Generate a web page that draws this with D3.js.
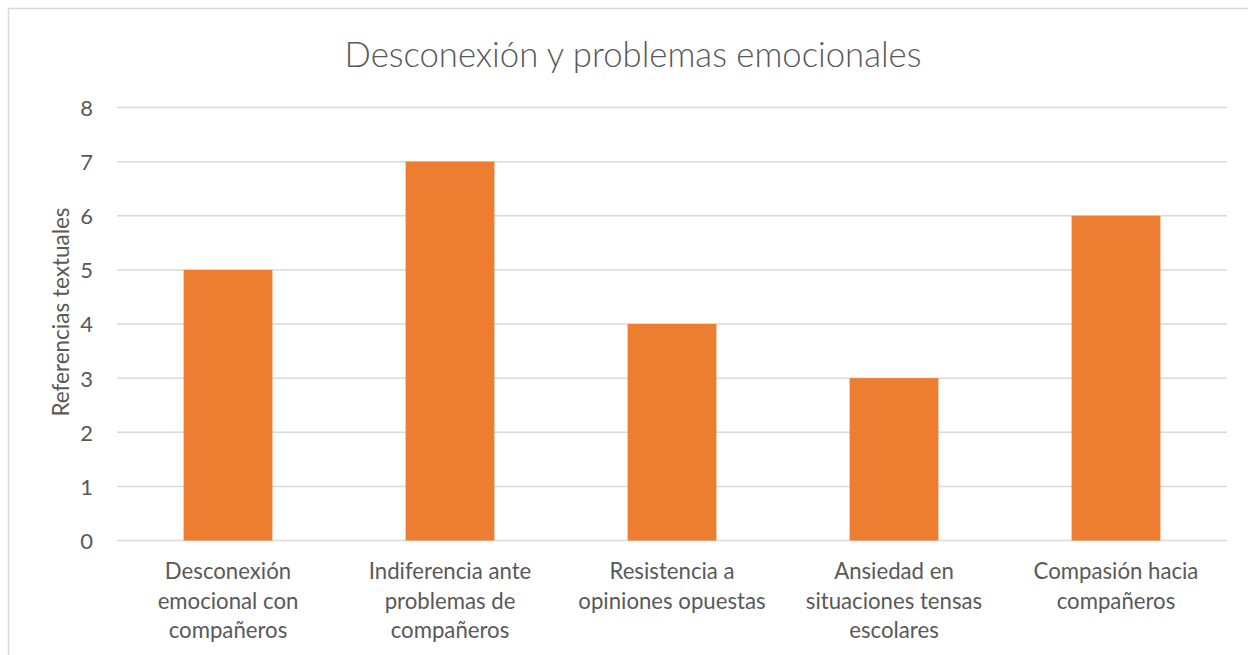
<!DOCTYPE html>
<html>
<head>
<meta charset="utf-8">
<script src="https://cdn.jsdelivr.net/npm/d3@7"></script>
<style>
  body { margin: 0; background: #fff; }
  text { font-family: Lato, "Open Sans", sans-serif; fill: #595959; }
</style>
</head>
<body>
<script>
const categories = [
  'Desconexión\nemocional con\ncompañeros',
  'Indiferencia ante\nproblemas de\ncompañeros',
  'Resistencia a\nopiniones opuestas',
  'Ansiedad en\nsituaciones tensas\nescolares',
  'Compasión hacia\ncompañeros'
];
const values = [5, 7, 4, 3, 6];
const yTicks = [0, 1, 2, 3, 4, 5, 6, 7, 8];
const title = 'Desconexión y problemas emocionales';
const yTitle = 'Referencias textuales';

const w = 1248, h = 655;
const plotLeft = 117, plotRight = 1227, plotTop = 107.5, plotBottom = 540.5;

const svg = d3.select('body').append('svg')
  .attr('width', w)
  .attr('height', h);

// chart border
svg.append('rect')
  .attr('x', 8.5).attr('y', 8.5)
  .attr('width', 1250).attr('height', 660)
  .attr('fill', 'none')
  .attr('stroke', '#d9d9d9')
  .attr('stroke-width', 1.5);

const x = d3.scaleBand()
  .domain(categories)
  .range([plotLeft, plotRight])
  .paddingInner(0.6)
  .paddingOuter(0.3);

const y = d3.scaleLinear()
  .domain([0, 8])
  .range([plotBottom, plotTop]);

// gridlines
svg.append('g')
  .selectAll('line')
  .data(yTicks)
  .enter()
  .append('line')
  .attr('x1', plotLeft).attr('x2', plotRight)
  .attr('y1', d => y(d)).attr('y2', d => y(d))
  .attr('stroke', '#d9d9d9')
  .attr('stroke-width', 1.5);

const yAxis = d3.axisLeft(y).tickValues(yTicks).tickSize(0).tickPadding(0);
const gy = svg.append('g')
  .attr('transform', `translate(93, 0)`)
  .call(yAxis);
gy.select('.domain').remove();
gy.selectAll('text')
  .style('font-size', '22px')
  .attr('fill', '#595959')
  .attr('dy', '0.36em');

svg.selectAll('.bar')
  .data(values)
  .enter()
  .append('rect')
  .attr('class', 'bar')
  .attr('x', (d, i) => x(categories[i]))
  .attr('width', x.bandwidth())
  .attr('y', d => y(d))
  .attr('height', d => y(0) - y(d))
  .attr('fill', '#ED7D31');

// category labels
const labels = svg.append('g')
  .selectAll('text')
  .data(categories)
  .enter()
  .append('text')
  .attr('text-anchor', 'middle')
  .style('font-size', '22.2px');
labels.each(function (d) {
  const t = d3.select(this);
  d.split('\n').forEach((line, j) => {
    t.append('tspan')
      .attr('x', x(d) + x.bandwidth() / 2)
      .attr('y', 579 + j * 29.5)
      .text(line);
  });
});

svg.append('text')
  .attr('x', 633)
  .attr('y', 67)
  .attr('text-anchor', 'middle')
  .style('font-size', '34.7px')
  .style('font-weight', 300)
  .text(title);

svg.append('text')
  .attr('transform', `translate(69, 312) rotate(-90)`)
  .attr('text-anchor', 'middle')
  .style('font-size', '22.5px')
  .text(yTitle);
</script>
</body>
</html>
